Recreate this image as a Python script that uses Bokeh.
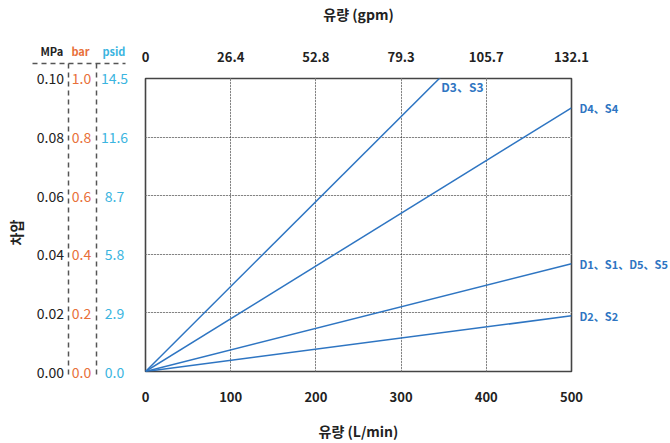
import math
from bokeh.plotting import figure
from bokeh.layouts import row
from bokeh.models import FixedTicker, LinearAxis, Range1d, Label, Grid
from bokeh.core.properties import value
from bokeh.embed import file_html
from bokeh.resources import INLINE

# ---- data ----
flow_lpm = [0, 100, 200, 300, 400, 500]
flow_gpm_labels = ["0", "26.4", "52.8", "79.3", "105.7", "132.1"]
mpa_ticks = [0.0, 0.02, 0.04, 0.06, 0.08, 0.10]
mpa_labels = ["0.00", "0.02", "0.04", "0.06", "0.08", "0.10"]
bar_labels = ["0.0", "0.2", "0.4", "0.6", "0.8", "1.0"]
psid_labels = ["0.0", "2.9", "5.8", "8.7", "11.6", "14.5"]

series_names = ["D3、S3", "D4、S4", "D1、S1、D5、S5", "D2、S2"]
series_flow = [0, 500]
series_dp = [
    [0, 0.145],
    [0, 0.090],
    [0, 0.0368],
    [0, 0.019],
]

FONT = "Noto Sans CJK KR"
BLACK = "#222222"
ORANGE = "#E8703A"
CYAN = "#3BB5E0"
BLUE = "#2E75C2"
DASH = "#555555"

H = 443
TOP = 78
BOTTOM = 71
FRAME_H = H - TOP - BOTTOM   # 294
YMAX = 0.10
k = YMAX / FRAME_H
LW = 129
PAD_L = 16
FRAME_W = 428
PAD_R = 670 - LW - PAD_L - FRAME_W
MW = PAD_L + FRAME_W + PAD_R

# ---- left figure (pressure scales) ----
left = figure(width=LW, height=H, output_backend="svg", toolbar_location=None,
              x_range=Range1d(0, LW),
              y_range=Range1d(-BOTTOM * k, YMAX + TOP * k),
              x_axis_location=None, y_axis_location=None,
              min_border=0, min_border_left=0, min_border_right=0,
              min_border_top=0, min_border_bottom=0, frame_align=False)
left.grid.visible = False
left.outline_line_color = None
left.background_fill_color = None
left.border_fill_color = None

n = len(mpa_ticks)
left.text(x=[63.5] * n, y=mpa_ticks, text=mpa_labels, text_align="right",
          text_baseline="middle", text_color=BLACK, text_font=value(FONT),
          text_font_size="14px")
left.text(x=[81] * n, y=mpa_ticks, text=bar_labels, text_align="center",
          text_baseline="middle", text_color=ORANGE, text_font=value(FONT),
          text_font_size="14px")
left.text(x=[114] * n, y=mpa_ticks, text=psid_labels, text_align="center",
          text_baseline="middle", text_color=CYAN, text_font=value(FONT),
          text_font_size="14px")

y_head = YMAX + 28 * k
left.text(x=[51.3, 80, 113.5], y=[y_head] * 3, text=["MPa", "bar", "psid"],
          text_align="center", text_baseline="middle",
          text_color=[BLACK, ORANGE, CYAN], text_font=value(FONT),
          text_font_size="11px", text_font_style="bold")

y_line_top = YMAX + 15 * k
y_line_bot = -5 * k
left.segment(x0=[32], y0=[y_line_top], x1=[125], y1=[y_line_top],
             line_color=DASH, line_width=1.5, line_dash="5 4")
left.segment(x0=[68, 96], y0=[y_line_top] * 2, x1=[68, 96], y1=[y_line_bot] * 2,
             line_color=DASH, line_width=1.5, line_dash="5 4")

left.text(x=[15], y=[0.0476], text=["차압"], angle=math.pi / 2,
          text_align="center", text_baseline="middle", text_color=BLACK,
          text_font=value(FONT), text_font_size="14px", text_font_style="bold")

# ---- main figure ----
p = figure(width=MW, height=H, output_backend="svg", toolbar_location=None,
           x_range=Range1d(0, 500), y_range=Range1d(0, YMAX),
           x_axis_location=None, y_axis_location=None,
           min_border_left=PAD_L, min_border_right=PAD_R,
           min_border_top=TOP, min_border_bottom=BOTTOM, frame_align=False)
p.background_fill_color = None
p.border_fill_color = None
p.outline_line_color = "#444444"
p.outline_line_width = 1.6


def no_ticks(ax):
    ax.axis_line_color = None
    ax.major_tick_line_color = None
    ax.minor_tick_line_color = None
    ax.major_tick_out = 0
    ax.major_tick_in = 0
    ax.minor_tick_out = 0
    ax.minor_tick_in = 0


def style_axis(ax, label, standoff, label_standoff):
    ax.ticker = FixedTicker(ticks=flow_lpm)
    no_ticks(ax)
    ax.major_label_standoff = standoff
    ax.major_label_text_font = FONT
    ax.major_label_text_font_size = "13px"
    ax.major_label_text_font_style = "bold"
    ax.major_label_text_color = BLACK
    ax.axis_label = label
    ax.axis_label_standoff = label_standoff
    ax.axis_label_text_font = FONT
    ax.axis_label_text_font_size = "14px"
    ax.axis_label_text_font_style = "bold"
    ax.axis_label_text_color = BLACK


bottom_ax = LinearAxis()
style_axis(bottom_ax, "유량 (L/min)", 20, 16)
p.add_layout(bottom_ax, "below")

top_ax = LinearAxis()
style_axis(top_ax, "유량 (gpm)", 17, 25)
top_ax.major_label_overrides = {v: s for v, s in zip(flow_lpm, flow_gpm_labels)}
p.add_layout(top_ax, "above")

# series names at the right end of each line, as a right-hand axis
end_vals = [dp[1] for dp in series_dp[1:]]
right_ax = LinearAxis(ticker=FixedTicker(ticks=end_vals))
no_ticks(right_ax)
right_ax.major_label_overrides = {v: s for v, s in zip(end_vals, series_names[1:])}
right_ax.major_label_standoff = 8
right_ax.major_label_text_font = FONT
right_ax.major_label_text_font_size = "11px"
right_ax.major_label_text_font_style = "bold"
right_ax.major_label_text_color = BLUE
p.add_layout(right_ax, "right")

xg = Grid(dimension=0, ticker=FixedTicker(ticks=flow_lpm[1:-1]),
          grid_line_color="#222222", grid_line_dash="1 2", grid_line_width=1)
yg = Grid(dimension=1, ticker=FixedTicker(ticks=mpa_ticks[1:-1]),
          grid_line_color="#222222", grid_line_dash="1 2", grid_line_width=1)
p.add_layout(xg)
p.add_layout(yg)

for name, dp in zip(series_names, series_dp):
    p.line(series_flow, dp, line_color=BLUE, line_width=1.5)

d3_x = YMAX / series_dp[0][1] * series_flow[1]
p.add_layout(Label(x=d3_x, y=YMAX, text=series_names[0], x_offset=2, y_offset=-8,
                   text_align="left", text_baseline="middle", text_color=BLUE,
                   text_font=FONT, text_font_size="12px", text_font_style="bold"))

layout = row(left, p, spacing=0)
open("out.html", "w").write(file_html(layout, INLINE))
